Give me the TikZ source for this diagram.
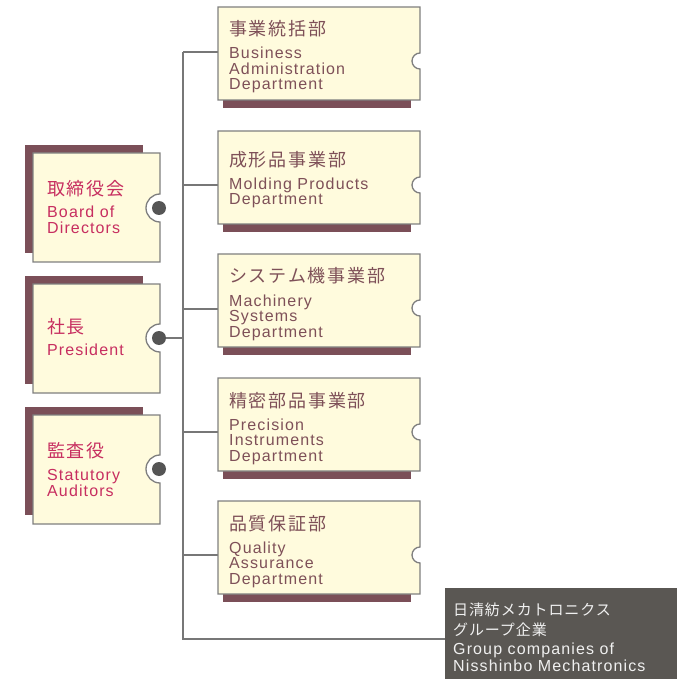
\documentclass[tikz,border=0pt]{standalone}
\usepackage{fontspec}
\setmainfont{Liberation Sans}[LetterSpace=7]
\newfontfamily\jp{Noto Sans CJK JP}[LetterSpace=10]
\newfontfamily\jps{Noto Sans CJK JP}[LetterSpace=6]
\definecolor{cream}{HTML}{FFFBDD}
\definecolor{shadowc}{HTML}{7B4F58}
\definecolor{outlinec}{HTML}{7F7F7F}
\definecolor{lefttext}{HTML}{C72E60}
\definecolor{righttext}{HTML}{7E5058}
\definecolor{grpfill}{HTML}{5A5753}
\definecolor{dotc}{HTML}{555555}
\definecolor{connc}{HTML}{777777}
\definecolor{grptext}{HTML}{F0F0F0}
\tikzset{
  boxline/.style={draw=outlinec, line width=1.3pt, fill=cream, line join=miter},
  conn/.style={draw=connc, line width=1.2pt},
  txt/.style={inner sep=0pt, anchor=base west},
  ltitle/.style={txt, text=lefttext, font=\jp\fontsize{18}{20}\selectfont},
  leng/.style={txt, text=lefttext, font=\fontsize{16}{16}\selectfont},
  rtitle/.style={txt, text=righttext, font=\jp\fontsize{18}{20}\selectfont},
  reng/.style={txt, text=righttext, font=\fontsize{16}{16}\selectfont},
  gtitle/.style={txt, text=grptext, font=\jps\fontsize{15}{16}\selectfont},
  geng/.style={txt, text=grptext, font=\fontsize{16}{16}\selectfont},
  dotn/.style={circle, fill=dotc, inner sep=0pt, minimum size=14pt},
  grpbox/.style={fill=grpfill, draw=none, inner sep=0pt, anchor=north west,
     minimum width=232pt, minimum height=91pt}
}
\newcommand\rightbox[1]{%
  \fill[shadowc] (223,#1+85) rectangle (411,#1+101);
  \draw[boxline] (218,#1) -- (420,#1) -- (420,#1+46)
     arc[start angle=270,end angle=90,radius=8] -- (420,#1+93) -- (218,#1+93) -- cycle;
}
\newcommand\leftbox[2]{% #1 top, #2 bottom
  \fill[shadowc] (25,#1-8) rectangle (143,#2-9);
}
\begin{document}
\begin{tikzpicture}[x=1pt,y=-1pt]
\useasboundingbox (0,0) rectangle (691,679);
% connectors
\coordinate (vtop) at (183,52);
\coordinate (j2) at (183,185);
\coordinate (j3) at (183,309);
\coordinate (j4) at (183,432);
\coordinate (j5) at (183,555);
\coordinate (jp) at (183,338);
\coordinate (vbot) at (183,639);
\coordinate (r1w) at (218,52);
\coordinate (r2w) at (218,185);
\coordinate (r3w) at (218,309);
\coordinate (r4w) at (218,432);
\coordinate (r5w) at (218,555);
\node[grpbox] (grp) at (445,588) {};
\draw[conn] (vtop) -- (vbot) -- (vbot -| grp.west);
\draw[conn] (vtop) -- (r1w);
\draw[conn] (j2) -- (r2w);
\draw[conn] (j3) -- (r3w);
\draw[conn] (j4) -- (r4w);
\draw[conn] (j5) -- (r5w);
% right boxes
\rightbox{7}
\rightbox{131}
\rightbox{254}
\rightbox{378}
\rightbox{501}
\node[rtitle] (r1t) at (229,36) {事業統括部};
\node[reng] (r1a) at (229,59) {Business};
\node[reng] (r1b) at (229,74.5) {Administration};
\node[reng] (r1c) at (229,90) {Department};
\node[rtitle] (r2t) at (229,167) {成形品事業部};
\node[reng] (r2a) at (229,189.5) {Molding Products};
\node[reng] (r2b) at (229,205) {Department};
\node[rtitle] (r3t) at (229,283) {システム機事業部};
\node[reng] (r3a) at (229,306) {Machinery};
\node[reng] (r3b) at (229,321.5) {Systems};
\node[reng] (r3c) at (229,337) {Department};
\node[rtitle] (r4t) at (229,407) {精密部品事業部};
\node[reng] (r4a) at (229,430) {Precision};
\node[reng] (r4b) at (229,445.5) {Instruments};
\node[reng] (r4c) at (229,461) {Department};
\node[rtitle] (r5t) at (229,530) {品質保証部};
\node[reng] (r5a) at (229,553) {Quality};
\node[reng] (r5b) at (229,568.5) {Assurance};
\node[reng] (r5c) at (229,584) {Department};
% left boxes
\leftbox{153}{262}
\leftbox{284}{393}
\leftbox{415}{524}
\foreach \t/\b/\c in {153/262/208, 284/393/338, 415/524/469}{
  \draw[boxline] (33,\t) -- (160,\t) -- (160,\c-14)
     arc[start angle=270,end angle=90,radius=14] -- (160,\b) -- (33,\b) -- cycle;
}
\draw[conn] (jp) -- (159,338);
\node[dotn] (d1) at (159,208) {};
\node[dotn] (d2) at (159,338) {};
\node[dotn] (d3) at (159,469) {};
\node[ltitle] (l1t) at (47,196) {取締役会};
\node[leng] (l1a) at (47,217.5) {Board of};
\node[leng] (l1b) at (47,234) {Directors};
\node[ltitle] (l2t) at (47,333.5) {社長};
\node[leng] (l2a) at (47,355) {President};
\node[ltitle] (l3t) at (47,457) {監査役};
\node[leng] (l3a) at (47,480) {Statutory};
\node[leng] (l3b) at (47,496) {Auditors};
% group box text
\node[gtitle] (g1) at (453,615) {日清紡メカトロニクス};
\node[gtitle] (g2) at (453,635) {グループ企業};
\node[geng] (g3) at (453,654) {Group companies of};
\node[geng] (g4) at (453,671) {Nisshinbo Mechatronics};
\end{tikzpicture}
\end{document}
